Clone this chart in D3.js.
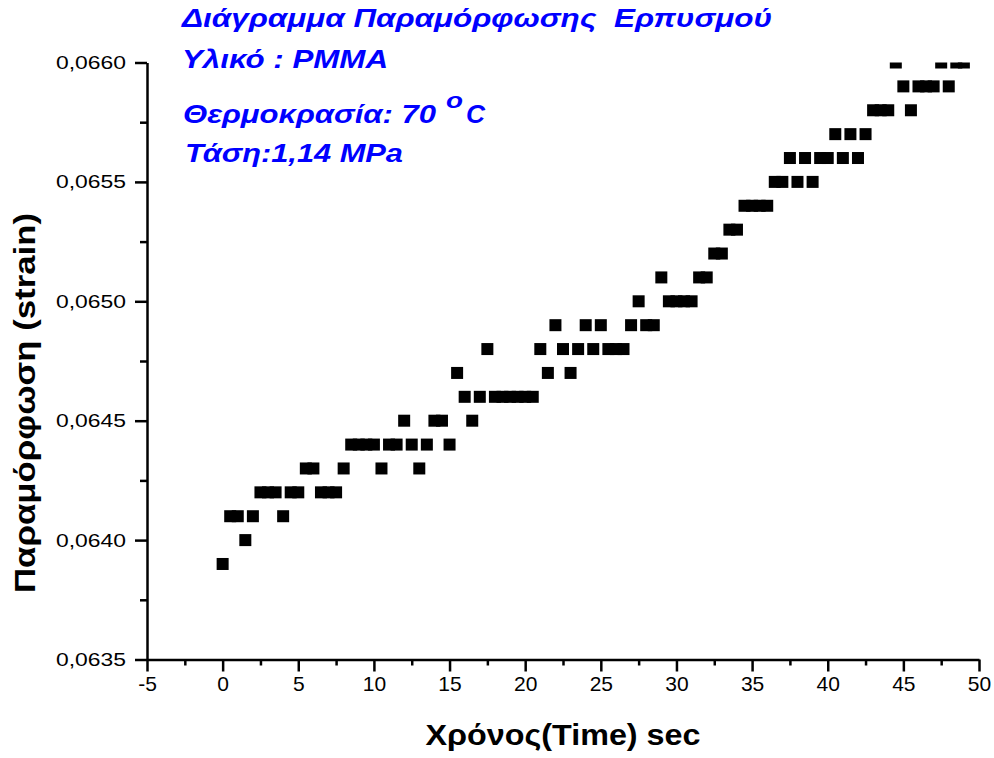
<!DOCTYPE html>
<html>
<head>
<meta charset="utf-8">
<script src="https://cdn.jsdelivr.net/npm/d3@7"></script>
<style>
  body { margin:0; background:#fff }
  svg { display:block; font-family:"Liberation Sans", Arial, sans-serif }
  .axis path, .axis line { stroke:#000; stroke-width:2.5 }
  .title { fill:#0000ff; font-weight:bold; font-style:italic; white-space:pre }
</style>
</head>
<body>
<svg width="994" height="758"></svg>
<script>
const svg = d3.select('svg')

// time (sec) and strain
const times = [0,0.5,1,1.5,2,2.5,3,3.5,4,4.5,5,5.5,6,6.5,7,7.5,8,8.5,9,9.5,
  10,10.5,11,11.5,12,12.5,13,13.5,14,14.5,15,15.5,16,16.5,17,17.5,18,18.5,19,19.5,
  20,20.5,21,21.5,22,22.5,23,23.5,24,24.5,25,25.5,26,26.5,27,27.5,28,28.5,29,29.5,
  30,30.5,31,31.5,32,32.5,33,33.5,34,34.5,35,35.5,36,36.5,37,37.5,38,38.5,39,39.5,
  40,40.5,41,41.5,42,42.5,43,43.5,44,44.5,45,45.5,46,46.5,47,47.5,48,48.5,49]
const strain = [0.0639,0.0641,0.0641,0.0640,0.0641,0.0642,0.0642,0.0642,0.0641,0.0642,
  0.0642,0.0643,0.0643,0.0642,0.0642,0.0642,0.0643,0.0644,0.0644,0.0644,
  0.0644,0.0643,0.0644,0.0644,0.0645,0.0644,0.0643,0.0644,0.0645,0.0645,
  0.0644,0.0647,0.0646,0.0645,0.0646,0.0648,0.0646,0.0646,0.0646,0.0646,
  0.0646,0.0646,0.0648,0.0647,0.0649,0.0648,0.0647,0.0648,0.0649,0.0648,
  0.0649,0.0648,0.0648,0.0648,0.0649,0.0650,0.0649,0.0649,0.0651,0.0650,
  0.0650,0.0650,0.0650,0.0651,0.0651,0.0652,0.0652,0.0653,0.0653,0.0654,
  0.0654,0.0654,0.0654,0.0655,0.0655,0.0656,0.0655,0.0656,0.0655,0.0656,
  0.0656,0.0657,0.0656,0.0657,0.0656,0.0657,0.0658,0.0658,0.0658,0.0660,
  0.0659,0.0658,0.0659,0.0659,0.0659,0.0660,0.0659,0.0660,0.0660]

const xTicks = [-5,0,5,10,15,20,25,30,35,40,45,50]
const xMinor = [-2.5,2.5,7.5,12.5,17.5,22.5,27.5,32.5,37.5,42.5,47.5]
const yTicks = [0.0635,0.0640,0.0645,0.0650,0.0655,0.0660]
const yMinor = [0.06375,0.06425,0.06475,0.06525,0.06575]

const titleLines = ['Διάγραμμα Παραμόρφωσης  Ερπυσμού','Υλικό : PMMA','Θερμοκρασία: 70','Τάση:1,14 MPa']

const x = d3.scaleLinear().domain([-5,50]).range([147,979])
const y = d3.scaleLinear().domain([0.0635,0.0660]).range([659.5,62.5])
const fmt = v => d3.format('.4f')(v).replace('.',',')
const marker = 12

/* plot clip */
svg.append('clipPath').attr('id','clip').append('rect')
  .attr('x',x.range()[0]).attr('y',y.range()[1])
  .attr('width',x.range()[1]-x.range()[0])
  .attr('height',y.range()[0]-y.range()[1])

/* Axes */
const $xaxis = svg.append('g').classed('axis',true)
  .attr('transform',`translate(0,${y.range()[0]})`)
$xaxis.append('g')
  .call(d3.axisBottom(x).tickValues(xMinor).tickSize(6).tickSizeOuter(0).tickFormat(''))
  .call(g => g.select('.domain').remove())
$xaxis.append('g')
  .call(d3.axisBottom(x).tickValues(xTicks).tickSize(12).tickSizeOuter(0).tickPadding(5).tickFormat(d => String(d)))
  .call(g => g.selectAll('text').attr('font-size',21).attr('fill','#000'))

const $yaxis = svg.append('g').classed('axis',true)
  .attr('transform',`translate(${x.range()[0]},0)`)
$yaxis.append('g')
  .call(d3.axisLeft(y).tickValues(yMinor).tickSize(7).tickSizeOuter(0).tickFormat(''))
  .call(g => g.select('.domain').remove())
$yaxis.append('g')
  .call(d3.axisLeft(y).tickValues(yTicks).tickSize(12).tickSizeOuter(0).tickPadding(9).tickFormat(fmt))
  .call(g => g.selectAll('text').attr('font-size',18.5).attr('fill','#000')
    .attr('textLength',70).attr('lengthAdjust','spacingAndGlyphs'))

/* Points */
svg.append('g').attr('clip-path','url(#clip)')
  .selectAll('rect').data(times.map((t,i) => ({t,v:strain[i]})))
  .enter().append('rect')
  .attr('x',d => x(d.t)-marker/2)
  .attr('y',d => y(d.v)-marker/2)
  .attr('width',marker)
  .attr('height',marker)
  .attr('fill','#000')

/* Axis titles */
svg.append('text')
  .attr('x',563).attr('y',745)
  .attr('text-anchor','middle')
  .attr('font-size',29).attr('font-weight','bold')
  .attr('textLength',275).attr('lengthAdjust','spacingAndGlyphs')
  .text('Χρόνος(Time) sec')

svg.append('text')
  .attr('transform','translate(35,403) rotate(-90)')
  .attr('text-anchor','middle')
  .attr('font-size',30).attr('font-weight','bold')
  .attr('textLength',380).attr('lengthAdjust','spacingAndGlyphs')
  .text('Παραμόρφωση (strain)')

/* Title block */
const titlePos = [[182,27,590],[182,68,206],[183,123,253],[185,162,218]]
svg.selectAll('.title').data(titleLines)
  .enter().append('text').classed('title',true)
  .attr('x',(d,i) => titlePos[i][0])
  .attr('y',(d,i) => titlePos[i][1])
  .attr('textLength',(d,i) => titlePos[i][2])
  .attr('lengthAdjust','spacingAndGlyphs')
  .attr('font-size',25)
  .text(d => d)

svg.append('text').classed('title',true)
  .attr('x',446).attr('y',108).attr('font-size',22)
  .attr('textLength',17).attr('lengthAdjust','spacingAndGlyphs')
  .text('o')
svg.append('text').classed('title',true)
  .attr('x',466).attr('y',123).attr('font-size',25)
  .attr('textLength',19).attr('lengthAdjust','spacingAndGlyphs')
  .text('C')
</script>
</body>
</html>
